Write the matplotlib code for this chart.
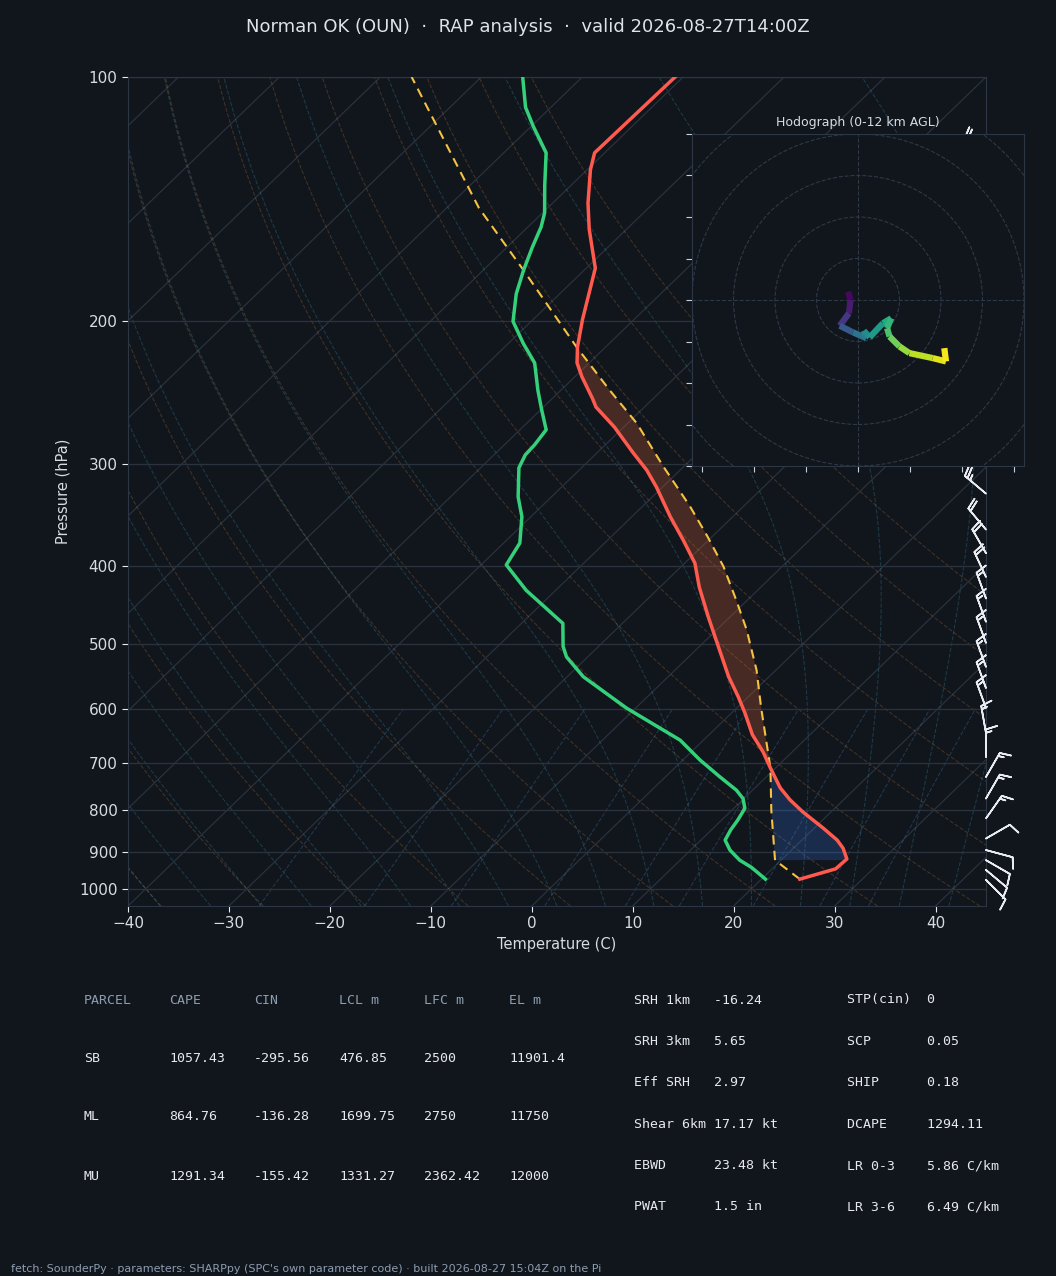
import numpy as np
import matplotlib
matplotlib.use("Agg")
import matplotlib.pyplot as plt
from matplotlib.transforms import Affine2D
from matplotlib.collections import LineCollection
from matplotlib.ticker import FixedLocator, NullLocator, FuncFormatter

# ---- sounding (hPa, degC) ----
pres = [973, 945, 919, 891, 871, 842, 804, 777, 751, 710, 678, 646, 607, 580, 548, 498, 462, 425, 397, 372,
        348, 320, 305, 290, 270, 255, 249, 234, 225, 215, 199, 181, 172, 154, 143, 130, 124, 100]
temp = [23.8, 26.3, 26.4, 24.9, 23.5, 20.9, 17.2, 14.7, 12.5, 9.5, 7.1, 4.3, 1.3, -1.0, -4.0, -8.6, -12.2, -16.1, -19.0, -22.5,
        -26.2, -30.6, -33.3, -36.5, -40.9, -44.8, -46.0, -49.3, -51.2, -52.8, -55.1, -57.7, -59.1, -63.7, -66.5, -69.7, -71.0, -70.8]

dew_p = [973, 941, 922, 896, 871, 846, 823, 796, 774, 756, 728, 694, 656, 599, 548, 518, 503, 471, 429, 399,
         375, 348, 329, 303, 292, 284, 272, 257, 243, 225, 213, 200, 185, 173, 162, 153, 147, 136, 124, 115, 109, 100]
dew_t = [20.4, 17.8, 15.9, 13.9, 12.4, 11.9, 11.6, 11.1, 9.9, 8.4, 5.4, 1.7, -2.3, -10.9, -18.4, -22.1, -23.5, -25.9, -32.9, -37.5,
         -38.4, -40.9, -43.3, -46.2, -46.9, -47.0, -47.4, -49.9, -52.3, -55.4, -58.5, -61.8, -64.3, -66.0, -67.5, -68.7, -69.8, -72.6,
         -75.8, -79.8, -82.5, -85.9]

parcel_p = [973, 922, 800, 710, 597, 538, 480, 441, 401, 368, 338, 302, 267, 243, 215, 173, 145, 100]
parcel_t = [23.8, 19.4, 13.9, 9.5, 2.3, -1.9, -7.0, -11.1, -15.8, -20.5, -25.3, -32.0, -39.1, -45.2, -52.9, -66.0, -76.8, -96.9]

lcl_p, lfc_p, el_p = 922, 710, 215

# wind barbs (direction from, kt)
barb_p = [975, 948, 922, 896, 867, 819, 774, 728, 688, 643, 599, 566, 533, 498, 469, 439, 413, 386, 361, 326,
          296, 268, 243, 220, 198, 178, 158, 140, 125]
barb_dir = [135, 130, 120, 105, 60, 35, 30, 30, 0, 350, 340, 340, 340, 340, 340, 340, 335, 330, 320, 310,
            305, 300, 300, 300, 300, 300, 300, 305, 310]
barb_spd = [10, 10, 10, 10, 10, 15, 15, 15, 15, 15, 15, 15, 15, 15, 15, 15, 20, 20, 20, 25,
            25, 25, 25, 25, 25, 25, 25, 25, 25]

# hodograph (kt) and height (km AGL)
hodo_u = [-2.4, -1.8, -2.2, -4.4, -1.2, 2.0, 1.4, 2.8, 6.0, 8.0, 7.0, 7.6, 10.0, 12.4, 18.0, 21.2, 20.8]
hodo_v = [2.0, 0.0, -3.2, -6.2, -7.8, -9.2, -7.4, -9.0, -5.6, -4.4, -6.8, -8.8, -11.2, -12.8, -14.0, -14.8, -11.6]
hodo_z = [0.0, 0.5, 1.4, 2.4, 4.2, 5.0, 5.4, 6.0, 7.0, 7.6, 8.2, 8.9, 9.8, 10.4, 11.2, 11.7, 12.0]

# parameter table
tbl_head = ["PARCEL", "CAPE", "CIN", "LCL m", "LFC m", "EL m"]
tbl_rows = [["SB", "1057.43", "-295.56", "476.85", "2500", "11901.4"],
            ["ML", "864.76", "-136.28", "1699.75", "2750", "11750"],
            ["MU", "1291.34", "-155.42", "1331.27", "2362.42", "12000"]]
kin_names = ["SRH 1km", "SRH 3km", "Eff SRH", "Shear 6km", "EBWD", "PWAT"]
kin_vals = ["-16.24", "5.65", "2.97", "17.17 kt", "23.48 kt", "1.5 in"]
thermo_names = ["STP(cin)", "SCP", "SHIP", "DCAPE", "LR 0-3", "LR 3-6"]
thermo_vals = ["0", "0.05", "0.18", "1294.11", "5.86 C/km", "6.49 C/km"]

BG = "#11151c"
GRID = "#2a323d"
TXT = "#d6dce4"
MUTED = "#8d9db0"
SPINE = "#2c3644"

W, H = 1056, 1276
fig = plt.figure(figsize=(W / 100, H / 100), dpi=100, facecolor=BG)

ax = fig.add_axes([128 / W, 1 - 906 / H, 858 / W, 829 / H], facecolor=BG)
ax.set_yscale("log")
ax.set_ylim(1050, 100)
ax.set_xlim(-40, 45)
skew = ax.transScale + ax.transLimits + Affine2D().skew_deg(45, 0) + ax.transAxes

# background lines
p_bg = np.linspace(1050, 100, 120)
for t0 in np.arange(-130, 50, 10):
    ax.plot([t0, t0], [1050, 100], transform=skew, color=GRID, lw=0.9, zorder=1)

for t0 in np.arange(-40, 100, 10):
    tk = (t0 + 273.15) * (p_bg / 1000.0) ** 0.2857 - 273.15
    ax.plot(tk, p_bg, transform=skew, color="#a0703c", alpha=0.32, lw=0.8, ls="--", zorder=1)

Rd, Cp, Lv, eps = 287.04, 1005.7, 2.501e6, 0.622


def lapse(t, p):
    es = 6.112 * np.exp(17.67 * (t - 273.15) / (t - 29.65))
    rs = eps * es / (p - es)
    return (Rd * t + Lv * rs) / (Cp + Lv * Lv * rs * eps / (Rd * t * t)) / p


def moist(t0, plev):
    t = np.asarray(t0, float) + 273.15
    out = [t.copy()]
    for i in range(len(plev) - 1):
        dp = plev[i + 1] - plev[i]
        p = plev[i]
        k1 = lapse(t, p)
        k2 = lapse(t + 0.5 * dp * k1, p + 0.5 * dp)
        k3 = lapse(t + 0.5 * dp * k2, p + 0.5 * dp)
        k4 = lapse(t + dp * k3, p + dp)
        t = t + dp * (k1 + 2 * k2 + 2 * k3 + k4) / 6
        out.append(t.copy())
    return np.array(out) - 273.15


t_moist = np.concatenate((np.arange(-40, 0, 5), np.arange(0, 61, 5)))
p_up = np.linspace(1000, 100, 91)
p_dn = np.linspace(1000, 1050, 6)
m_up = moist(t_moist, p_up)
m_dn = moist(t_moist, p_dn)
p_m = np.concatenate((p_dn[::-1], p_up[1:]))
m_all = np.vstack((m_dn[::-1], m_up[1:]))
for j in range(len(t_moist)):
    ax.plot(m_all[:, j], p_m, transform=skew, color="#3a9ab0", alpha=0.28, lw=0.8, ls="--", zorder=1)

p_mix = np.linspace(1050, 600, 30)
for w in [0.0004, 0.001, 0.002, 0.004, 0.007, 0.01, 0.016, 0.024, 0.032]:
    e = p_mix * w / (eps + w)
    lg = np.log(e / 6.112)
    ax.plot(243.5 * lg / (17.67 - lg), p_mix, transform=skew, color="#4a86b8", alpha=0.3, lw=0.8,
            ls="--", zorder=1)

# CAPE / CIN shading


def on_grid(pg, pp, tt):
    pp = np.asarray(pp, float)
    return np.interp(np.log(pg), np.log(pp[::-1]), np.asarray(tt, float)[::-1])


pg = np.geomspace(lfc_p, el_p, 120)
env_g, par_g = on_grid(pg, pres, temp), on_grid(pg, parcel_p, parcel_t)
ax.fill(np.concatenate((par_g, env_g[::-1])), np.concatenate((pg, pg[::-1])), transform=skew,
        color="#e0673a", alpha=0.26, lw=0, zorder=2)
pg = np.geomspace(lcl_p, lfc_p, 80)
env_g, par_g = on_grid(pg, pres, temp), on_grid(pg, parcel_p, parcel_t)
ax.fill(np.concatenate((par_g, env_g[::-1])), np.concatenate((pg, pg[::-1])), transform=skew,
        color="#3b82f6", alpha=0.22, lw=0, zorder=2)

# profiles
ax.plot(parcel_t, parcel_p, transform=skew, color="#f5c242", lw=1.5, ls=(0, (4.5, 3)), zorder=4)
ax.plot(temp, pres, transform=skew, color="#ff5a4e", lw=2.5, zorder=5)
ax.plot(dew_t, dew_p, transform=skew, color="#34d17a", lw=2.5, zorder=5)

# barbs on the right edge
rad = np.deg2rad(barb_dir)
bu = -np.array(barb_spd) * np.sin(rad)
bv = -np.array(barb_spd) * np.cos(rad)
ax.barbs(np.ones(len(barb_p)), barb_p, bu, bv, transform=ax.get_yaxis_transform(), clip_on=False,
         length=6.3, color="#e8ecf1", linewidth=1.2, zorder=6)

ax.yaxis.set_major_locator(FixedLocator([100, 200, 300, 400, 500, 600, 700, 800, 900, 1000]))
ax.yaxis.set_major_formatter(FuncFormatter(lambda v, _: f"{v:.0f}"))
ax.yaxis.set_minor_locator(NullLocator())
ax.set_xticks(np.arange(-40, 41, 10))
ax.grid(axis="y", color=GRID, lw=1.0)
ax.tick_params(colors="#e8ecf1", labelcolor=TXT, labelsize=11, length=4)
for s in ax.spines.values():
    s.set_color(SPINE)
ax.set_xlabel("Temperature (C)", color=TXT, fontsize=10.5, labelpad=4)
ax.set_ylabel("Pressure (hPa)", color=TXT, fontsize=10.5, labelpad=6)

# hodograph inset
hax = fig.add_axes([692 / W, 1 - 466 / H, 332 / W, 332 / H], facecolor=BG)
hax.set_xlim(-40, 40)
hax.set_ylim(-40, 40)
for r in (10, 20, 30, 40, 50):
    hax.add_patch(plt.Circle((0, 0), r, fill=False, ls="--", color="#2e3947", lw=0.8))
hax.axhline(0, color="#2e3947", ls="--", lw=0.8)
hax.axvline(0, color="#2e3947", ls="--", lw=0.8)
pts = np.column_stack([hodo_u, hodo_v])
segs = np.stack([pts[:-1], pts[1:]], axis=1)
hz = np.array(hodo_z)
lc = LineCollection(segs, cmap="viridis", norm=plt.Normalize(0, 12), linewidth=4.5)
lc.set_array((hz[:-1] + hz[1:]) / 2)
hax.add_collection(lc)
hax.set_xticks(np.arange(-37.5, 40, 12.5))
hax.set_yticks(np.arange(-40, 41, 10))
hax.tick_params(labelbottom=False, labelleft=False, colors="#c8d0da", length=4)
for s in hax.spines.values():
    s.set_color(SPINE)
hax.set_title("Hodograph (0-12 km AGL)", color=TXT, fontsize=9, pad=6)

# title / table / footer


def px(x, y):
    return x / W, 1 - y / H


fig.text(*px(528, 27), "Norman OK (OUN)  \u00b7  RAP analysis  \u00b7  valid 2026-08-27T14:00Z",
         ha="center", va="center", fontsize=13, color="#dde3ea")

mono = dict(family="DejaVu Sans Mono", fontsize=9.5, va="center", ha="left")
col_x = [84, 169, 254, 339, 424, 509]
for cx, h in zip(col_x, tbl_head):
    fig.text(*px(cx, 1000), h, color=MUTED, **mono)
for i, row in enumerate(tbl_rows):
    for cx, val in zip(col_x, row):
        fig.text(*px(cx, 1058 + i * 59), val, color="#e6e9ee", **mono)

for i in range(len(kin_names)):
    y = 1000 + i * 41.4
    fig.text(*px(634, y), f"{kin_names[i]:<10}{kin_vals[i]}", color="#e6e9ee", **mono)
    fig.text(*px(847, y), f"{thermo_names[i]:<10}{thermo_vals[i]}", color="#e6e9ee", **mono)

fig.text(*px(11, 1269), "fetch: SounderPy \u00b7 parameters: SHARPpy (SPC's own parameter code) \u00b7 "
         "built 2026-08-27 15:04Z on the Pi", ha="left", va="center", fontsize=8, color=MUTED)

fig.savefig("out.png", dpi=100, facecolor=BG)
